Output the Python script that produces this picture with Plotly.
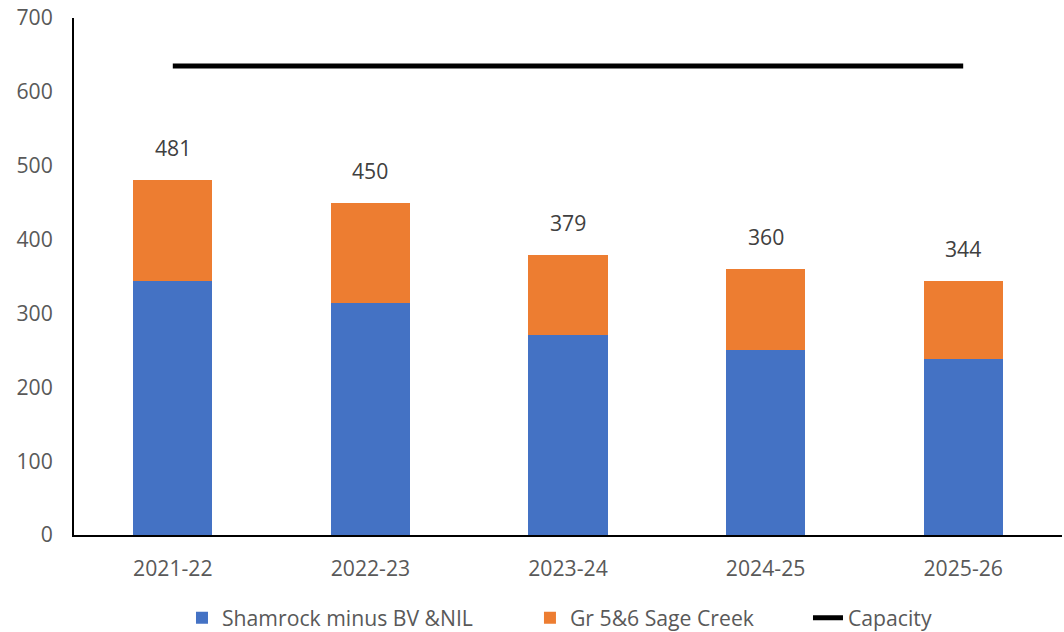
import plotly.graph_objects as go

categories = ["2021-22", "2022-23", "2023-24", "2024-25", "2025-26"]
shamrock = [344, 314, 271, 250, 238]
sage_creek = [137, 136, 108, 110, 106]
totals = [481, 450, 379, 360, 344]
capacity = [635, 635, 635, 635, 635]
y_ticks = [0, 100, 200, 300, 400, 500, 600, 700]

FONT = "Open Sans"
GRAY = "#595959"
FS = 21.2

fig = go.Figure()
fig.add_trace(go.Bar(x=categories, y=shamrock, name="Shamrock minus BV &NIL",
                     marker=dict(color="#4472C4", line=dict(width=0)), legend="legend"))
fig.add_trace(go.Bar(x=categories, y=sage_creek, name="Gr 5&6 Sage Creek",
                     marker=dict(color="#ED7D31", line=dict(width=0)), legend="legend2"))
fig.add_trace(go.Scatter(x=categories, y=capacity, name="Capacity", mode="lines",
                         line=dict(color="black", width=5), legend="legend3"))

for c, t in zip(categories, totals):
    fig.add_annotation(x=c, y=t, text=str(t), showarrow=False, yanchor="bottom",
                       yshift=16, font=dict(family=FONT, size=FS, color="#404040"))

def leg(x):
    return dict(orientation="h", x=x, xanchor="left", y=-0.1605, yanchor="middle",
                font=dict(family=FONT, size=FS, color=GRAY), itemwidth=30,
                bgcolor="rgba(0,0,0,0)")

fig.update_layout(
    width=1064, height=632,
    barmode="stack", bargap=0.6,
    plot_bgcolor="white", paper_bgcolor="white",
    margin=dict(l=74, r=2, t=18, b=97, autoexpand=False),
    font=dict(family=FONT, size=FS, color=GRAY),
    showlegend=True,
    legend=leg(0.1093), legend2=leg(0.4615), legend3=leg(0.7429),
    xaxis=dict(showline=True, linecolor="black", linewidth=2, ticks="", automargin=False,
               tickfont=dict(family=FONT, size=FS, color=GRAY), ticklabelstandoff=14),
    yaxis=dict(range=[0, 700], tickvals=y_ticks, showline=True, linecolor="black",
               linewidth=2, showgrid=False, zeroline=False, ticks="", automargin=False,
               tickfont=dict(family=FONT, size=FS, color=GRAY), ticklabelstandoff=15),
)

fig.write_html("out.html", config={"displayModeBar": False},
               post_script="document.body.style.margin='0';")
